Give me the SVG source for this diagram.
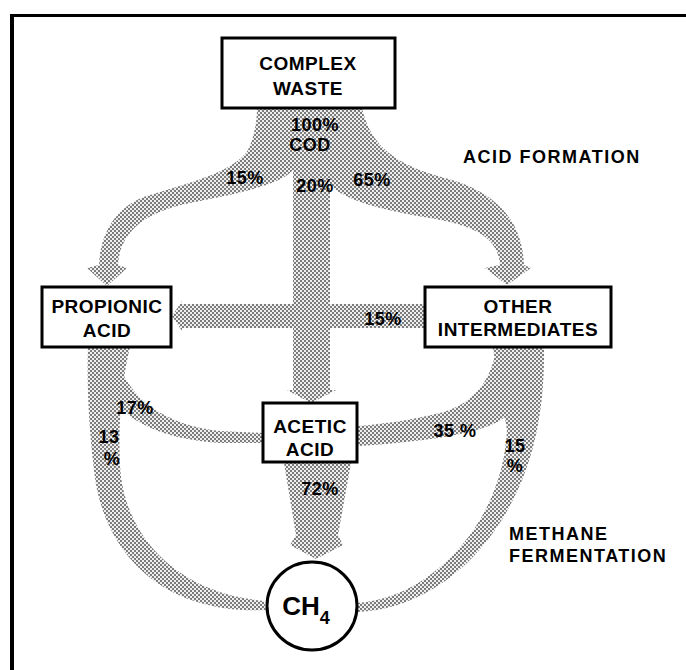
<svg xmlns="http://www.w3.org/2000/svg" width="686" height="670" viewBox="0 0 686 670">
<defs>
<pattern id="stip" width="4" height="4" patternUnits="userSpaceOnUse">
<rect width="4" height="4" fill="#efefef"/>
<rect x="0" y="0" width="2" height="2" fill="#7c7c7c"/>
<rect x="2" y="2" width="2" height="2" fill="#7c7c7c"/>
</pattern>
<style>
.band{fill:url(#stip);stroke:none}
.box{fill:#fff;stroke:#000;stroke-width:3}
.t{font-family:"Liberation Sans",Arial,sans-serif;font-weight:bold;fill:#000;text-anchor:middle}
.bl{font-size:19px;letter-spacing:0.5px}
.pc{font-size:18px;letter-spacing:0.5px}
.lab{font-size:18px;text-anchor:start;letter-spacing:1.5px}
</style>
</defs>
<rect width="686" height="670" fill="#fff"/>
<g id="frame">
<line x1="10" y1="15.5" x2="686" y2="15.5" stroke="#000" stroke-width="3"/>
<line x1="12" y1="14" x2="12" y2="670" stroke="#000" stroke-width="4"/>
</g>
<g id="connectors">
<path class="band" d="M257,108 L362,108 C370,145 395,165 445,178 C490,190 522,215 524,265 L531,268 L507,285 L485,268 L500,265 C498,235 470,225 430,218 C380,210 345,200 330,185 L330,390 L336,390 L311,403 L287,390 L293,390 L293,170 C280,185 240,193 190,203 C140,213 120,235 118,265 L127,268 L107,286 L87,268 L99,265 C100,235 115,205 150,195 C200,180 235,170 248,150 C255,135 257,120 257,108 Z"/>
<path class="band" d="M425,304 L182,304 L182,301 L172,316 L182,331 L182,328 L425,328 Z"/>
<path class="band" d="M88,347 L130,347 C122,380 118,420 120,465 C123,530 170,592 264,601 L266,610 C160,615 102,550 94,470 C88,420 87,380 88,347 Z"/>
<path class="band" d="M122,372 C135,400 165,425 220,431 L263,433 L263,443 L220,443 C170,440 135,425 118,405 Z"/>
<path class="band" d="M493,348 L544,348 C545,420 530,480 495,530 C460,580 410,610 357,612 L357,603 C400,600 440,575 470,535 C495,500 505,465 507,430 L500,390 Z"/>
<path class="band" d="M496,350 C490,385 470,405 440,413 C410,420 385,424 358,426 L358,446 C390,444 430,440 460,434 C490,428 505,420 512,410 Z"/>
<path class="band" d="M284,463 L351,463 L338,535 L343,545 L316,559 L290,545 L296,535 Z"/>
</g>
<g id="complex-waste">
<rect class="box" x="222" y="38" width="173" height="70"/>
<text class="t bl" x="308" y="70">COMPLEX</text>
<text class="t bl" x="308" y="95">WASTE</text>
</g>
<g id="propionic-acid">
<rect class="box" x="42" y="287" width="129" height="60"/>
<text class="t bl" x="107" y="313">PROPIONIC</text>
<text class="t bl" x="107" y="337">ACID</text>
</g>
<g id="other-intermediates">
<rect class="box" x="425" y="287" width="186" height="60"/>
<text class="t bl" x="518" y="313">OTHER</text>
<text class="t bl" x="518" y="336">INTERMEDIATES</text>
</g>
<g id="acetic-acid">
<rect class="box" x="263" y="403" width="94" height="59"/>
<text class="t bl" x="310" y="433">ACETIC</text>
<text class="t bl" x="310" y="456">ACID</text>
</g>
<g id="ch4">
<ellipse cx="312" cy="606" rx="45" ry="44" fill="#fff" stroke="#000" stroke-width="3"/>
<text class="t" x="306" y="615" font-size="26">CH<tspan font-size="18" dy="9">4</tspan></text>
</g>
<g id="labels">
<text class="t pc" x="315" y="131">100%</text>
<text class="t pc" x="310" y="151">COD</text>
<text class="t pc" x="245" y="184">15%</text>
<text class="t pc" x="315" y="192">20%</text>
<text class="t pc" x="372" y="186">65%</text>
<text class="t pc" x="383" y="325">15%</text>
<text class="t pc" x="135" y="414">17%</text>
<text class="t pc" x="109" y="443">13</text>
<text class="t pc" x="112" y="465">%</text>
<text class="t pc" x="455" y="437">35 %</text>
<text class="t pc" x="515" y="452">15</text>
<text class="t pc" x="515" y="472">%</text>
<text class="t pc" x="320" y="495">72%</text>
<text class="t lab" x="463" y="163">ACID FORMATION</text>
<text class="t lab" x="509" y="540">METHANE</text>
<text class="t lab" x="509" y="562">FERMENTATION</text>
</g>
</svg>
